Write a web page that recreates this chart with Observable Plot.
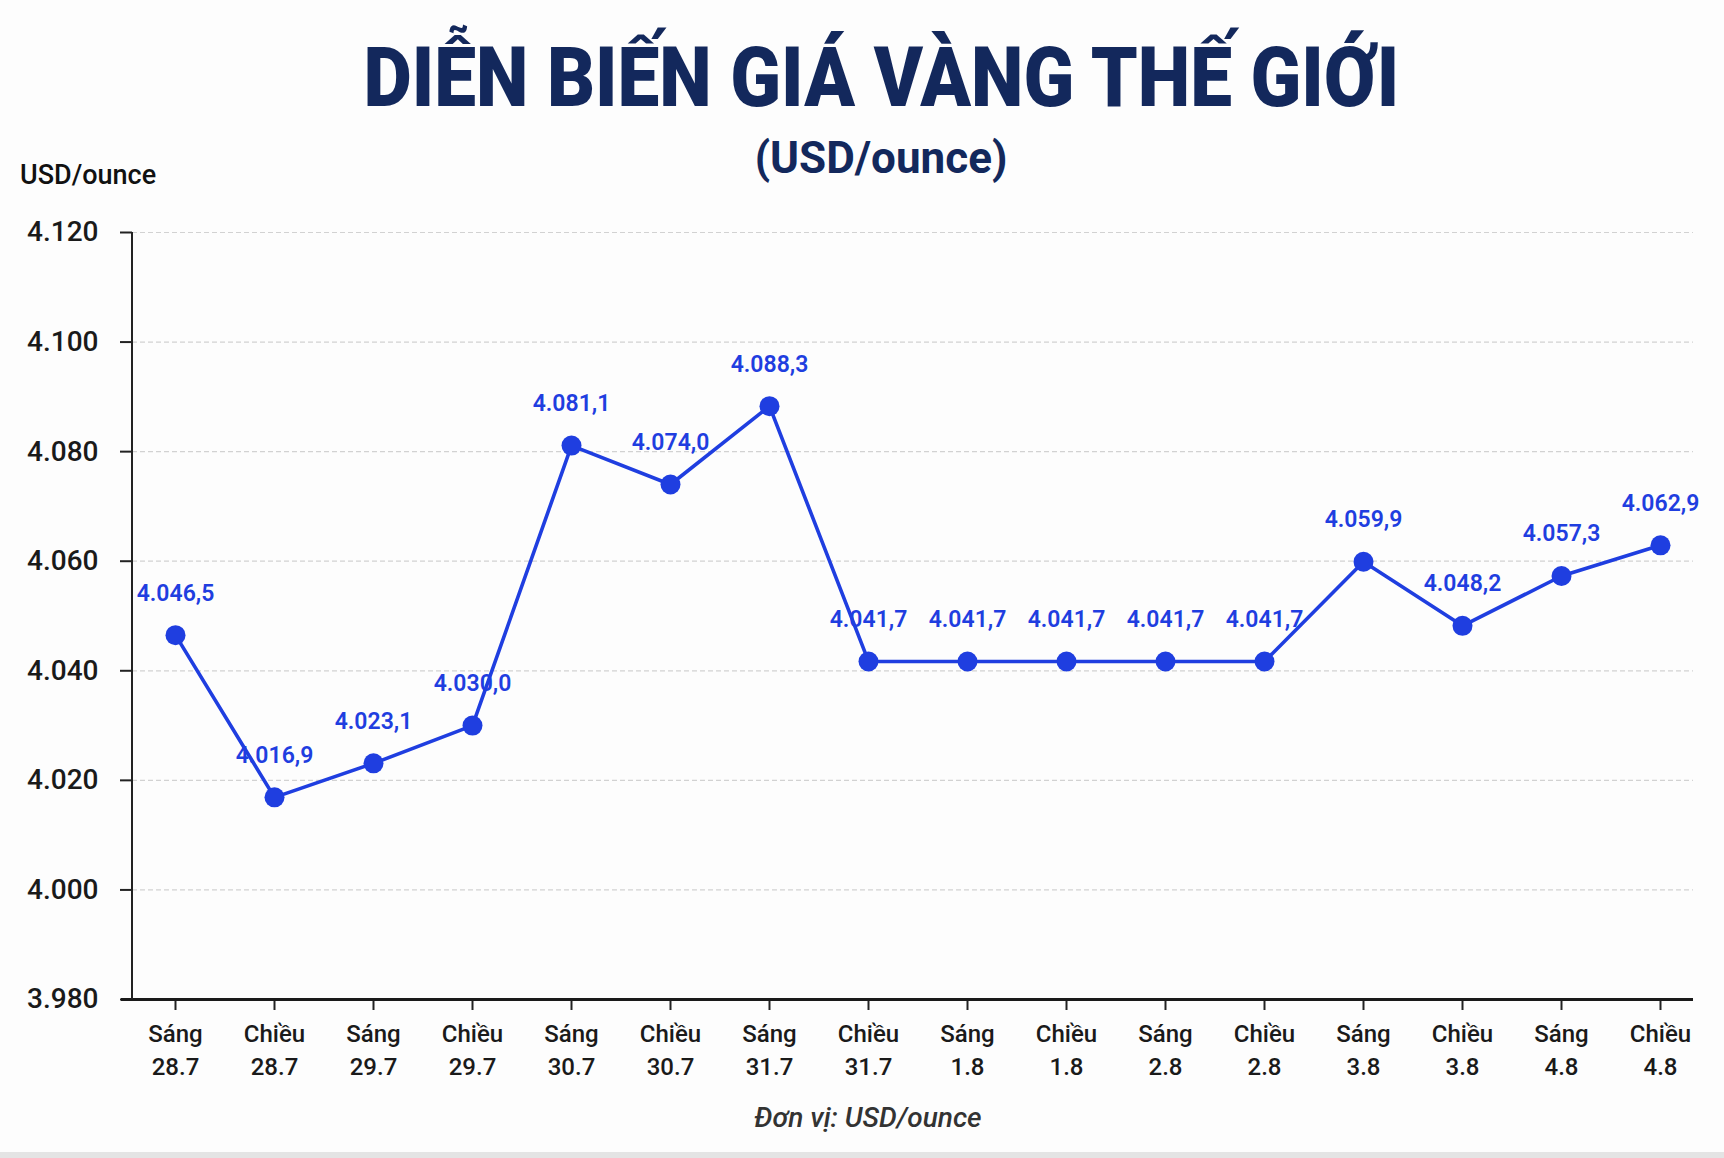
<!DOCTYPE html>
<html>
<head>
<meta charset="utf-8">
<script src="https://cdn.jsdelivr.net/npm/d3@7"></script>
<script src="https://cdn.jsdelivr.net/npm/@observablehq/plot@0.6"></script>
<style>
  html, body { margin: 0; padding: 0; background: #fdfdfd; }
  #page { position: relative; width: 1724px; height: 1158px; overflow: hidden; font-family: Roboto, "Noto Sans", sans-serif; }
  .center { position: absolute; left: 0; width: 1762px; text-align: center; }
  #title { top: 36px; }
  #title span { display: inline-block; font-size: 83px; font-weight: 900; color: #13285c; line-height: 1; transform-origin: center; white-space: nowrap; }
  #subtitle { top: 136px; }
  #subtitle span { display: inline-block; font-size: 44px; font-weight: 700; color: #13285c; line-height: 1; }
  #unit { position: absolute; left: 20px; top: 162px; font-size: 27px; font-weight: 500; color: #111; line-height: 1; }
  #caption { position: absolute; left: 0; width: 1736px; text-align: center; top: 1104px; font-size: 28px; font-style: italic; font-weight: 500; color: #333; line-height: 1; }
  #band { position: absolute; left: 0; top: 1152px; width: 1724px; height: 6px; background: #e4e4e4; }
  #chart { position: absolute; left: 0; top: 0; }
</style>
</head>
<body>
<div id="page">
  <div id="chart"></div>
  <div id="title" class="center"><span>DIỄN BIẾN GIÁ VÀNG THẾ GIỚI</span></div>
  <div id="subtitle" class="center"><span>(USD/ounce)</span></div>
  <div id="unit">USD/ounce</div>
  <div id="caption">Đơn vị: USD/ounce</div>
  <div id="band"></div>
</div>
<script>
const sessions = ["Sáng","Chiều","Sáng","Chiều","Sáng","Chiều","Sáng","Chiều","Sáng","Chiều","Sáng","Chiều","Sáng","Chiều","Sáng","Chiều"];
const dates = ["28.7","28.7","29.7","29.7","30.7","30.7","31.7","31.7","1.8","1.8","2.8","2.8","3.8","3.8","4.8","4.8"];
const prices = [4046.5, 4016.9, 4023.1, 4030.0, 4081.1, 4074.0, 4088.3, 4041.7, 4041.7, 4041.7, 4041.7, 4041.7, 4059.9, 4048.2, 4057.3, 4062.9];
const yTicks = [3980, 4000, 4020, 4040, 4060, 4080, 4100, 4120];

const categories = sessions.map((s, i) => s + "\n" + dates[i]);
const data = prices.map((p, i) => ({cat: categories[i], price: p}));

const vi = d3.formatLocale({decimal: ",", thousands: ".", grouping: [3], currency: ["", ""]});
const fmtTick = vi.format(",.0f");
const fmtVal = vi.format(",.1f");

const blue = "#1f3ee0";
const marginLeft = 132;

const chart = Plot.plot({
  width: 1724,
  height: 1158,
  marginLeft,
  marginRight: 31,
  marginTop: 232,
  marginBottom: 159,
  style: {fontFamily: "Roboto, 'Noto Sans', sans-serif", background: "transparent", color: "#1a1a1a"},
  x: {type: "point", domain: categories, padding: 0, insetLeft: 39, insetRight: 29},
  y: {domain: [3980, 4120]},
  marks: [
    Plot.gridY(yTicks.slice(1), {stroke: "#d2d2d2", strokeOpacity: 1, strokeWidth: 1.2, strokeDasharray: "5,3"}),
    Plot.axisY(yTicks, {tickSize: 12, tickPadding: 22, fontSize: 28, fontWeight: 500, tickFormat: fmtTick, label: null, stroke: "#222", strokeWidth: 2, fill: "#1a1a1a"}),
    Plot.axisX({tickSize: 11, tickPadding: 8, fontSize: 24, fontWeight: 500, lineHeight: 1.375, label: null, stroke: "#222", strokeWidth: 2, fill: "#1a1a1a"}),
    Plot.ruleY([3980], {stroke: "#1a1a1a", strokeWidth: 3, insetLeft: -11}),
    Plot.line(data, {x: "cat", y: "price", stroke: blue, strokeWidth: 3.6}),
    Plot.dot(data, {x: "cat", y: "price", r: 10, fill: blue, stroke: "none"}),
    Plot.text(data, {x: "cat", y: "price", text: d => fmtVal(d.price), dy: -42, fontSize: 23, fontWeight: 600, fill: blue})
  ]
});

// vertical y-axis line along the frame's left edge
const ys = chart.scale("y");
d3.select(chart).append("line")
  .attr("x1", marginLeft).attr("x2", marginLeft)
  .attr("y1", ys.apply(yTicks[yTicks.length - 1])).attr("y2", ys.apply(yTicks[0]))
  .attr("stroke", "#222").attr("stroke-width", 2);

document.getElementById("chart").appendChild(chart);

// condense title to the reference width
const t = document.querySelector("#title span");
const w = t.getBoundingClientRect().width;
t.style.transform = `scaleX(${1036 / w})`;
</script>
</body>
</html>
